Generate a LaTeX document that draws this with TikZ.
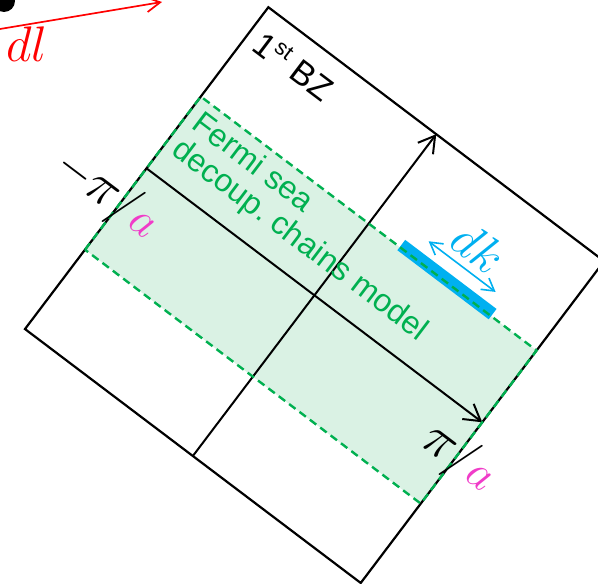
\RequirePackage{fix-cm}
\documentclass[tikz,border=0pt]{standalone}
\usepackage{fontspec}
\newfontfamily\arialf{Liberation Sans}
\usetikzlibrary{arrows.meta}
\definecolor{bzgreen}{RGB}{0,176,80}
\definecolor{bandfill}{RGB}{218,242,228}
\definecolor{dkcyan}{RGB}{0,176,240}
\definecolor{amag}{RGB}{240,60,200}
\newcommand{\bigpi}{{\fontsize{54}{54}\selectfont$\pi$}}
\newcommand{\bigslash}{{\fontsize{50}{50}\selectfont$\mathbf{/}$}}
\begin{document}
\begin{tikzpicture}[x=1pt,y=1pt,
  bzline/.style={line width=2.2pt, draw=black, line join=miter},
  axisarrow/.style={line width=2pt, draw=black, -{Straight Barb[length=16pt,width=19pt]}},
  banddash/.style={draw=bzgreen, line width=2.4pt, dash pattern=on 8pt off 5pt},
  fermitext/.style={text=bzgreen, font=\arialf\fontsize{32}{32}\selectfont, anchor=base west, inner sep=0pt, rotate=-37.1},
  bztext/.style={text=black, font=\arialf\fontsize{34}{34}\selectfont, anchor=base west, inner sep=0pt, rotate=-37.1},
  mathlbl/.style={text=black, font=\fontsize{47}{47}\selectfont, anchor=base west, inner sep=0pt, rotate=-37.1},
  dklbl/.style={text=dkcyan, font=\fontsize{50}{50}\selectfont, anchor=base, inner sep=0pt, rotate=-37.1},
  dkbar/.style={draw=dkcyan, line width=13pt},
  dkarrow/.style={draw=dkcyan, line width=1.6pt, {Straight Barb[length=12pt,width=14pt]}-{Straight Barb[length=12pt,width=14pt]}},
  dlarrow/.style={draw=red, line width=1.7pt, -{Straight Barb[length=14pt,width=15pt]}}
]
\useasboundingbox (0,0) rectangle (598,584);
\clip (0,0) rectangle (598,584);

% dl arrow and site
\fill[black] (4,583) circle (11);
\coordinate (dls) at (-30,550);
\coordinate (dle) at (162,582);
\draw[dlarrow] (dls) -- (dle);
\node[text=red, font=\fontsize{50}{50}\selectfont, anchor=base west, inner sep=0pt] (dl) at (6,522) {$dl$};

\begin{scope}[shift={(314,289)}, rotate=-37.1]
  % square corners
  \coordinate (L) at (-210,-201.5);
  \coordinate (T) at (-210,202);
  \coordinate (R) at (211,202);
  \coordinate (B) at (211,-201.5);
  % band corners
  \coordinate (bLL) at (-210,-102);
  \coordinate (bUL) at (-210,90);
  \coordinate (bUR) at (211,90);
  \coordinate (bLR) at (211,-102);
  % axes ends
  \coordinate (axL) at (-210,0);
  \coordinate (axR) at (211,0);
  \coordinate (axB) at (0.5,-201.5);
  \coordinate (axT) at (0.5,202);

  \fill[bandfill] (bLL) -- (bUL) -- (bUR) -- (bLR) -- cycle;
  \draw[bzline] (L) -- (T) -- (R) -- (B) -- cycle;
  \draw[axisarrow] (axL) -- (axR);
  \draw[axisarrow] (axB) -- (axT);

  \coordinate (barS) at (39.5,92.5);
  \coordinate (barE) at (154,92.5);
  \draw[dkbar] (barS) -- (barE);
  \draw[banddash] (bLL) -- (bUL) -- (bUR) -- (bLR) -- cycle;

  \coordinate (dkS) at (59,112);
  \coordinate (dkE) at (143,112);
  \draw[dkarrow] (dkS) -- (dkE);
  \node[dklbl] (dk) at (103,120) {$dk$};

  \node[fermitext] (fs1) at (-200,59) {Fermi sea};
  \node[fermitext] (fs2) at (-200,26) {decoup.\ chains model};
  \node[bztext] (bz) at (-199,158) {1{\fontsize{22}{22}\selectfont\raisebox{12pt}{st}} BZ};

  \node[mathlbl] (mpa) at (-284,-57) {$-$\bigpi\bigslash\kern1pt{\color{amag}$a$}};
  \node[mathlbl] (ppa) at (174,-56) {\bigpi\bigslash\kern1pt{\color{amag}$a$}};
\end{scope}
\end{tikzpicture}
\end{document}
